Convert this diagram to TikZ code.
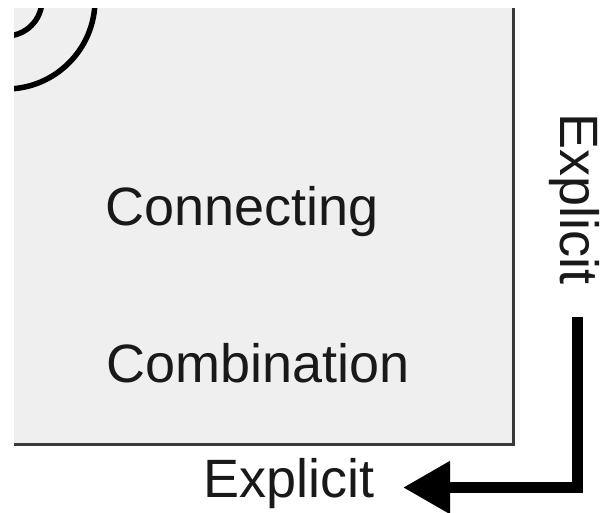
\documentclass[tikz,border=0pt]{standalone}
\usepackage{fontspec}
\setmainfont{Liberation Sans}
\usetikzlibrary{arrows.meta}
\definecolor{boxfill}{HTML}{EFEFEF}
\definecolor{boxedge}{HTML}{3A3A3A}
\tikzset{
  lbl/.style={inner sep=0pt, outer sep=0pt, font=\fontsize{54}{60}\selectfont, text=black!90},
  arcline/.style={line width=5.5pt, black},
  edgeline/.style={line width=3pt, boxedge},
  bigarrow/.style={line width=11pt, black, line join=miter, -{Triangle[length=47pt,width=50pt]}}
}
\begin{document}
\begin{tikzpicture}[x=1pt,y=-1pt]
\useasboundingbox (0,0) rectangle (604,512);
\fill[white] (0,0) rectangle (604,512);
\fill[boxfill] (14,8) rectangle (513,444);
\begin{scope}
  \clip (14,8) rectangle (513,444);
  \draw[arcline] (6,0) circle[radius=36];
  \draw[arcline] (6,0) circle[radius=89];
\end{scope}
\draw[edgeline] (513,8) -- (513,444) -- (14,444);
\node[lbl, anchor=base] (connecting) at (242,225) {Connecting};
\node[lbl, anchor=base] (combination) at (258.5,382) {Combination};
\node[lbl, anchor=base] (explicitb) at (289,497) {Explicit};
\node[lbl, anchor=base, rotate=-90] (explicitr) at (560,199) {Explicit};
\coordinate (astart) at (577.5,317);
\coordinate (aend) at (403,487.5);
\draw[bigarrow] (astart) |- (aend);
\end{tikzpicture}
\end{document}
